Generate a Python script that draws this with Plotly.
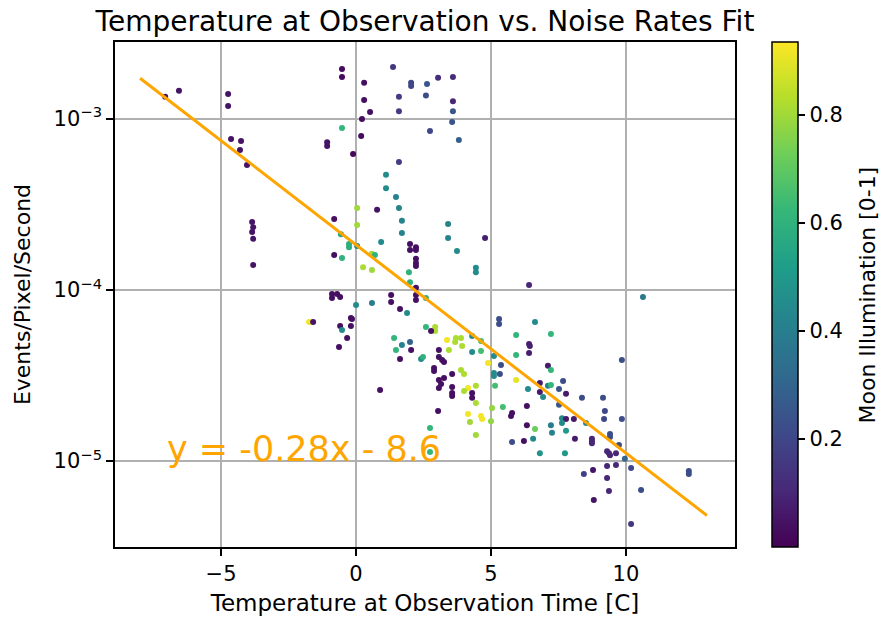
import plotly.graph_objects as go

# Temperature at observation [C]
temperature = [
    -7.07, -6.56, -4.74, -4.74, -4.63, -4.26, -4.30, -4.04, -0.52, -0.52,
    1.37, 0.30, 2.04, 2.04, 2.63, 3.04, 3.59, 0.30, 1.59, 2.59,
    3.59, 0.52, 1.59, 3.59, 0.22, 3.56, -0.52, 2.74, 3.81, 0.19,
    -1.07, -1.07, -0.11, 1.59, 1.11, 1.11, 1.48, 0.04, 0.78, 1.59,
    -3.85, -3.81, -3.85, -3.81, -3.81, -1.74, -1.59, -0.81, 0.04, 1.70,
    3.41, 1.70, -0.56, 3.41, 4.78, 0.93, -0.26, -0.26, 0.04, 2.00,
    2.00, 2.22, 2.22, 0.59, 0.70, -0.81, -0.52, 3.74, 2.22, 2.22,
    2.22, 0.26, 0.59, 1.96, 4.44, 4.44, 2.00, 2.22, -0.89, -0.70,
    -0.59, -0.89, 1.30, 2.22, 2.22, 2.59, 6.41, 1.30, 0.00, 0.59,
    1.63, 1.89, -0.19, -0.15, 5.30, 5.30, -0.59, -0.19, -0.52, 2.59,
    2.93, 2.93, 2.78, 5.93, -0.33, -0.63, 1.41, 3.37, 3.70, 3.67,
    3.89, 2.00, 1.70, 3.93, 4.30, 4.63, 2.04, 1.48, 3.07, 3.44,
    4.30, 4.63, 6.41, 6.41, 5.93, 5.11, 2.41, 2.48, 3.07, 3.19,
    3.26, 1.63, 4.89, 5.37, 2.89, 3.89, 2.89, 3.26, 3.56, 4.00,
    5.33, 5.11, 5.11, 5.93, 3.07, 3.15, 3.07, 3.56, 3.56, 3.56,
    4.15, 4.44, 4.00, 4.30, 4.30, 5.15, 6.37, 0.89, 4.44, 5.04,
    5.44, 5.78, 5.74, 6.33, 3.04, 4.15, 4.63, 4.67, 4.22, 5.00,
    6.33, 2.74, 4.44, 5.78, 6.22, 2.74, 10.63, 6.63, 7.22, 6.44,
    9.85, 7.11, 7.22, 7.67, 6.81, 7.11, 7.22, 6.81, 7.52, 7.78,
    6.93, 8.37, 9.15, 7.52, 9.22, 7.63, 7.78, 8.07, 9.19, 9.85,
    7.63, 8.52, 6.63, 7.22, 7.78, 7.26, 8.11, 8.74, 8.74, 8.74,
    9.41, 9.41, 6.56, 9.74, 6.81, 7.74, 9.30, 9.37, 9.41, 9.63,
    9.96, 9.30, 9.63, 10.19, 8.78, 8.44, 9.30, 12.33, 12.33, 9.37,
    10.56, 8.81, 10.19,
]

# Noise rate [events / pixel / second]
noise_rate = [
    1.35e-3, 1.46e-3, 1.40e-3, 1.19e-3, 7.64e-4, 7.43e-4, 6.59e-4, 5.38e-4, 1.96e-3, 1.76e-3,
    2.01e-3, 1.63e-3, 1.63e-3, 1.56e-3, 1.60e-3, 1.74e-3, 1.76e-3, 1.29e-3, 1.35e-3, 1.37e-3,
    1.27e-3, 1.10e-3, 1.11e-3, 1.11e-3, 1.00e-3, 9.6e-4, 8.85e-4, 8.51e-4, 7.53e-4, 7.96e-4,
    7.32e-4, 6.95e-4, 6.23e-4, 5.61e-4, 4.71e-4, 3.94e-4, 3.50e-4, 3.02e-4, 2.94e-4, 3.02e-4,
    2.50e-4, 2.33e-4, 2.18e-4, 1.99e-4, 1.40e-4, 6.50e-5, 6.50e-5, 2.60e-4, 2.40e-4, 2.54e-4,
    2.43e-4, 2.15e-4, 2.12e-4, 2.01e-4, 2.01e-4, 1.91e-4, 1.86e-4, 1.78e-4, 1.81e-4, 1.86e-4,
    1.71e-4, 1.78e-4, 1.71e-4, 1.63e-4, 1.60e-4, 1.60e-4, 1.54e-4, 1.69e-4, 1.52e-4, 1.44e-4,
    1.38e-4, 1.36e-4, 1.31e-4, 1.27e-4, 1.35e-4, 1.27e-4, 1.11e-4, 1.03e-4, 9.47e-5, 9.47e-5,
    9.10e-5, 8.98e-5, 9.35e-5, 9.35e-5, 8.74e-5, 8.98e-5, 1.07e-4, 8.51e-5, 8.17e-5, 8.39e-5,
    7.74e-5, 7.33e-5, 6.86e-5, 6.76e-5, 6.76e-5, 6.32e-5, 6.15e-5, 6.15e-5, 5.83e-5, 6.08e-5,
    6.08e-5, 5.75e-5, 5.75e-5, 5.46e-5, 5.24e-5, 4.64e-5, 5.24e-5, 5.10e-5, 5.24e-5, 4.97e-5,
    5.24e-5, 4.97e-5, 4.77e-5, 4.71e-5, 5.38e-5, 5.03e-5, 4.46e-5, 4.46e-5, 4.46e-5, 4.46e-5,
    4.34e-5, 4.40e-5, 4.83e-5, 4.28e-5, 4.17e-5, 4.11e-5, 3.95e-5, 4.06e-5, 4.06e-5, 3.90e-5,
    3.79e-5, 3.95e-5, 3.74e-5, 3.64e-5, 3.50e-5, 3.40e-5, 3.36e-5, 3.06e-5, 3.23e-5, 3.23e-5,
    3.23e-5, 3.27e-5, 3.14e-5, 2.98e-5, 2.98e-5, 2.82e-5, 2.67e-5, 2.71e-5, 2.50e-5, 2.40e-5,
    2.67e-5, 2.75e-5, 2.57e-5, 2.50e-5, 2.34e-5, 2.75e-5, 2.64e-5, 2.60e-5, 2.18e-5, 2.04e-5,
    2.07e-5, 1.91e-5, 1.83e-5, 2.10e-5, 1.96e-5, 1.88e-5, 1.83e-5, 1.76e-5, 1.69e-5, 1.71e-5,
    1.62e-5, 1.56e-5, 1.42e-5, 1.29e-5, 1.31e-5, 1.13e-5, 9.10e-5, 6.50e-5, 5.53e-5, 4.71e-5,
    3.90e-5, 3.60e-5, 3.40e-5, 2.94e-5, 2.86e-5, 2.75e-5, 2.78e-5, 2.53e-5, 2.64e-5, 2.47e-5,
    2.37e-5, 2.34e-5, 2.34e-5, 2.13e-5, 1.96e-5, 1.78e-5, 1.76e-5, 1.76e-5, 1.76e-5, 1.76e-5,
    1.67e-5, 1.67e-5, 1.54e-5, 1.62e-5, 1.50e-5, 1.46e-5, 1.35e-5, 1.35e-5, 1.31e-5, 1.27e-5,
    1.44e-5, 1.38e-5, 1.35e-5, 1.24e-5, 1.11e-5, 1.11e-5, 1.14e-5, 1.11e-5, 1.08e-5, 1.11e-5,
    1.03e-5, 9.35e-6, 9.48e-6, 9.10e-6, 8.86e-6, 8.40e-6, 7.96e-6, 8.75e-6, 8.40e-6, 6.68e-6,
    6.76e-6, 5.92e-6, 4.28e-6,
]

# Moon illumination [0-1]
moon_illumination = [
    0.05, 0.05, 0.05, 0.05, 0.05, 0.05, 0.05, 0.05, 0.03, 0.03,
    0.15, 0.04, 0.20, 0.20, 0.25, 0.12, 0.12, 0.04, 0.17, 0.22,
    0.10, 0.04, 0.17, 0.25, 0.03, 0.25, 0.62, 0.20, 0.28, 0.03,
    0.05, 0.05, 0.02, 0.17, 0.45, 0.45, 0.42, 0.80, 0.05, 0.42,
    0.05, 0.05, 0.05, 0.05, 0.05, 0.92, 0.05, 0.04, 0.80, 0.42,
    0.42, 0.42, 0.55, 0.42, 0.08, 0.45, 0.58, 0.58, 0.45, 0.04,
    0.04, 0.04, 0.04, 0.80, 0.60, 0.04, 0.60, 0.45, 0.04, 0.04,
    0.04, 0.82, 0.80, 0.60, 0.45, 0.45, 0.60, 0.04, 0.04, 0.04,
    0.04, 0.04, 0.04, 0.04, 0.04, 0.60, 0.10, 0.04, 0.45, 0.40,
    0.04, 0.45, 0.04, 0.04, 0.22, 0.22, 0.04, 0.04, 0.45, 0.62,
    0.82, 0.82, 0.04, 0.62, 0.04, 0.04, 0.62, 0.92, 0.82, 0.82,
    0.82, 0.30, 0.42, 0.82, 0.45, 0.65, 0.04, 0.62, 0.04, 0.82,
    0.45, 0.65, 0.08, 0.08, 0.62, 0.45, 0.45, 0.60, 0.04, 0.04,
    0.04, 0.04, 0.92, 0.22, 0.04, 0.82, 0.04, 0.04, 0.04, 0.82,
    0.22, 0.45, 0.45, 0.90, 0.04, 0.04, 0.04, 0.04, 0.04, 0.04,
    0.92, 0.82, 0.82, 0.04, 0.04, 0.65, 0.45, 0.04, 0.82, 0.78,
    0.65, 0.04, 0.04, 0.04, 0.04, 0.92, 0.92, 0.92, 0.80, 0.78,
    0.04, 0.62, 0.80, 0.22, 0.04, 0.62, 0.38, 0.45, 0.62, 0.08,
    0.22, 0.07, 0.62, 0.22, 0.07, 0.40, 0.62, 0.07, 0.25, 0.07,
    0.45, 0.22, 0.22, 0.25, 0.20, 0.45, 0.07, 0.07, 0.20, 0.22,
    0.45, 0.45, 0.72, 0.40, 0.50, 0.42, 0.07, 0.10, 0.10, 0.10,
    0.22, 0.22, 0.45, 0.22, 0.48, 0.50, 0.10, 0.10, 0.10, 0.10,
    0.30, 0.10, 0.10, 0.20, 0.05, 0.18, 0.10, 0.22, 0.22, 0.10,
    0.22, 0.05, 0.15,
]

# Fit line endpoints
fit_temperature = [-8.0, 13.0]
fit_rate = [1.73e-3, 4.8e-6]
fit_label = "y = -0.28x - 8.6"

x_tick_vals = [-5, 0, 5, 10]
x_tick_text = ["\u22125", "0", "5", "10"]
y_tick_vals = [1e-5, 1e-4, 1e-3]
y_tick_text = ["10<sup>\u22125</sup>", "10<sup>\u22124</sup>", "10<sup>\u22123</sup>"]
cb_tick_vals = [0.2, 0.4, 0.6, 0.8]
cb_tick_text = ["0.2", "0.4", "0.6", "0.8"]
cb_title = "Moon Illumination [0-1]"

FONT = "DejaVu Sans"
GRID = "#b0b0b0"

fig = go.Figure()

fig.add_trace(go.Scatter(
    x=temperature, y=noise_rate, mode="markers",
    marker=dict(
        size=6, color=moon_illumination, colorscale="Viridis",
        cmin=0.0, cmax=0.935, line=dict(width=0),
        colorbar=dict(
            x=1.0597, xanchor="left", y=0.5, yanchor="middle",
            len=1.0, lenmode="fraction", thickness=26, xpad=0, ypad=0,
            outlinewidth=1.5, outlinecolor="black",
            tickvals=cb_tick_vals, ticktext=cb_tick_text,
            ticks="outside", ticklen=7, tickwidth=1.5, tickcolor="black",
            tickfont=dict(family=FONT, size=21, color="black"),
        ),
    ),
    showlegend=False, hoverinfo="x+y",
))

fig.add_trace(go.Scatter(
    x=fit_temperature, y=fit_rate, mode="lines",
    line=dict(color="#FFA500", width=3), showlegend=False,
))

fig.add_annotation(
    x=-7.0, y=-5.0, xref="x", yref="y", text=fit_label, showarrow=False,
    xanchor="left", yanchor="bottom", yshift=-10, xshift=-2,
    font=dict(family=FONT, size=35, color="#FFA500"),
)

# colorbar label
fig.add_annotation(
    x=1.2145, y=0.5, xref="paper", yref="paper", text=cb_title,
    showarrow=False, textangle=-90, xanchor="center", yanchor="middle",
    font=dict(family=FONT, size=22, color="black"),
)

fig.update_layout(
    width=880, height=618,
    margin=dict(l=115, r=145, t=42, b=71, autoexpand=False),
    paper_bgcolor="white", plot_bgcolor="white",
    font=dict(family=FONT, color="black"),
    title=dict(text="Temperature at Observation vs. Noise Rates Fit",
               x=0.5, xref="paper", xanchor="center",
               y=0.966, yref="container", yanchor="middle",
               font=dict(family=FONT, size=28, color="black")),
)

fig.update_xaxes(
    range=[-8.93, 14.04], tickvals=x_tick_vals, ticktext=x_tick_text,
    showline=True, mirror=True, linecolor="black", linewidth=1.6,
    ticks="outside", ticklen=7, tickwidth=1.5, tickcolor="black",
    showgrid=True, gridcolor=GRID, gridwidth=1.6, zeroline=False,
    tickfont=dict(family=FONT, size=21, color="black"),
    title=dict(text="Temperature at Observation Time [C]", standoff=10,
               font=dict(family=FONT, size=23, color="black")),
)

fig.update_yaxes(
    type="log", range=[-5.503, -2.55],
    tickvals=y_tick_vals, ticktext=y_tick_text,
    showline=True, mirror=True, linecolor="black", linewidth=1.6,
    ticks="outside", ticklen=7, tickwidth=1.5, tickcolor="black",
    showgrid=True, gridcolor=GRID, gridwidth=1.6, zeroline=False,
    tickfont=dict(family=FONT, size=21, color="black"),
    title=dict(text="Events/Pixel/Second", standoff=17,
               font=dict(family=FONT, size=22, color="black")),
)

fig.write_html("out.html")
